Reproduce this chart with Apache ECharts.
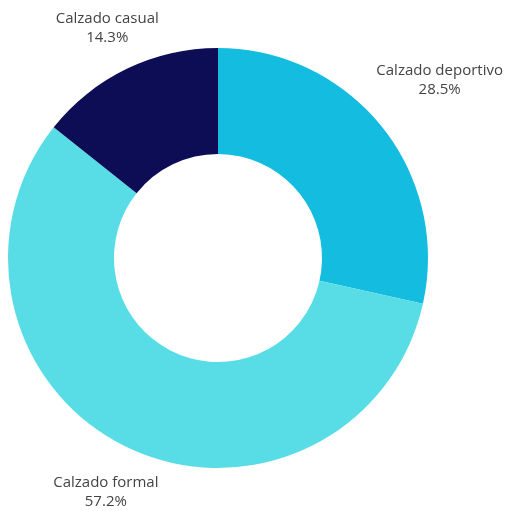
<!DOCTYPE html>
<html><head><meta charset="utf-8">
<script src="https://cdn.jsdelivr.net/npm/echarts@6/dist/echarts.min.js"></script>
<style>html,body{margin:0;padding:0;background:#fff}#c{width:510px;height:511px}</style>
</head><body><div id="c"></div>
<script>
const categories = ['Calzado deportivo', 'Calzado formal', 'Calzado casual'];
const values = [28.5, 57.2, 14.3];
const colors = ['#14bde0', '#58dde6', '#0d0d55'];

const cx = 218, cy = 258;
const labelRadii = [284, 260, 255];
const total = values.reduce((a, b) => a + b, 0);
const mids = [];
let acc = 0;
values.forEach(v => { mids.push((acc + v / 2) / total * Math.PI * 2); acc += v; });

const chart = echarts.init(document.getElementById('c'));
chart.setOption({
  animation: false,
  series: [{
    type: 'pie',
    center: [cx, cy],
    radius: [104, 210],
    startAngle: 90,
    clockwise: true,
    data: categories.map((n, i) => ({ name: n, value: values[i], itemStyle: { color: colors[i] } })),
    label: {
      show: true,
      position: 'outside',
      formatter: p => p.name + '\n' + p.value.toFixed(1) + '%',
      fontFamily: 'Open Sans',
      fontSize: 15,
      color: '#444',
      lineHeight: 19,
      overflow: 'none',
      width: 200
    },
    labelLine: { show: false },
    labelLayout: function (params) {
      const i = params.dataIndex;
      const a = mids[i];
      return {
        x: cx + Math.sin(a) * labelRadii[i],
        y: cy - Math.cos(a) * labelRadii[i],
        align: 'center',
        verticalAlign: 'middle'
      };
    }
  }]
});
</script></body></html>
